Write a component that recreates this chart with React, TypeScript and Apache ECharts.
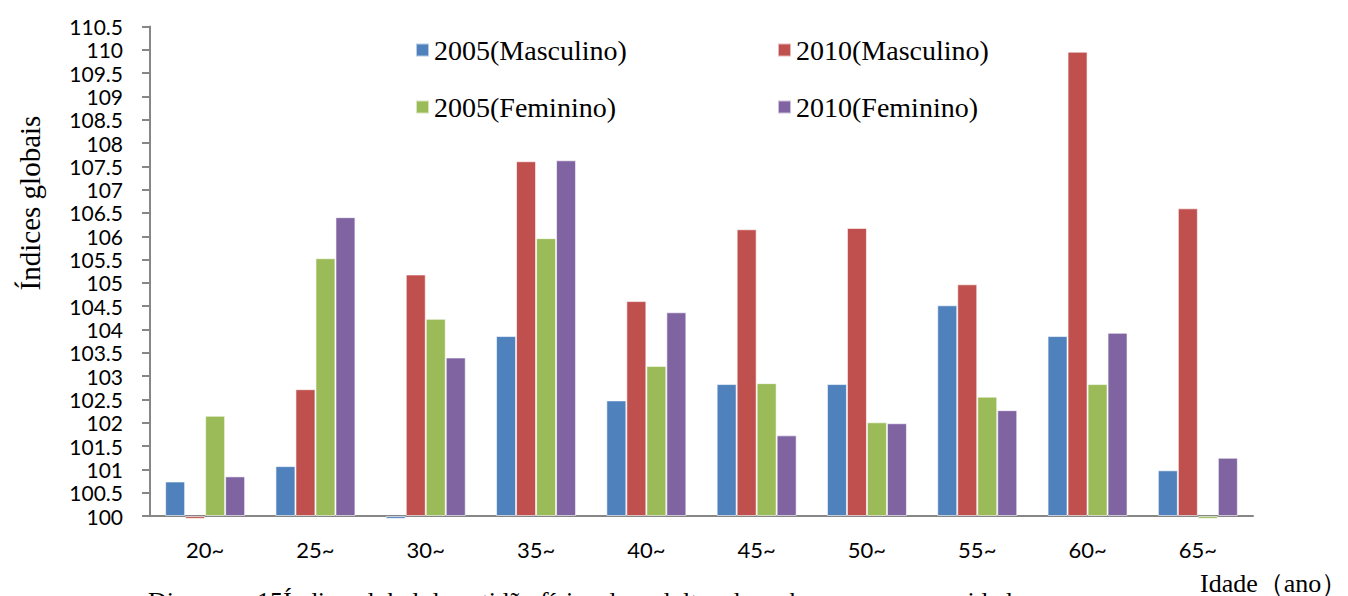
import React, { useEffect, useRef } from "react";
import * as echarts from "echarts";

const categories = ["20~", "25~", "30~", "35~", "40~", "45~", "50~", "55~", "60~", "65~"];
const seriesNames = ["2005(Masculino)", "2010(Masculino)", "2005(Feminino)", "2010(Feminino)"];
const male2005 = [100.74, 101.07, 99.94, 103.86, 102.48, 102.83, 102.83, 104.52, 103.86, 100.98];
const male2010 = [99.94, 102.72, 105.18, 107.61, 104.61, 106.15, 106.18, 104.97, 109.96, 106.6];
const female2005 = [102.15, 105.53, 104.23, 105.96, 103.22, 102.85, 102.01, 102.56, 102.83, 99.94];
const female2010 = [100.85, 106.41, 103.4, 107.63, 104.37, 101.73, 101.99, 102.27, 103.93, 101.25];
const colors = ["#4F81BD", "#C0504D", "#9BBB59", "#8064A2"];
const yTitle = "Índices globais";
const xTitle = "Idade（ano）";
const caption = "Diagrama 15Índice global da aptidão física dos adultos de ambos os sexos por idade";

const serif = "'Liberation Serif', 'Times New Roman', serif";
const sans = "Lato, 'Noto Sans', sans-serif";

export default function App() {
  const ref = useRef<HTMLDivElement>(null);
  useEffect(() => {
    if (!ref.current) return;
    const chart = echarts.init(ref.current, undefined, { renderer: "svg" });
    const values = [male2005, male2010, female2005, female2010];
    const legendPos = [
      { left: 415, top: 36 },
      { left: 777, top: 36 },
      { left: 415, top: 93 },
      { left: 777, top: 93 },
    ];
    chart.setOption({
      animation: false,
      backgroundColor: "#ffffff",
      color: colors,
      grid: { left: 150, right: 95, top: 26.5, bottom: 80, containLabel: false },
      legend: seriesNames.map((n, i) => ({
        data: [n],
        left: legendPos[i].left,
        top: legendPos[i].top,
        padding: 0,
        itemWidth: 13,
        itemHeight: 13,
        icon: "rect",
        textStyle: { fontFamily: serif, fontSize: 28, color: "#000", lineHeight: 28 },
      })),
      xAxis: {
        type: "category",
        data: categories,
        axisLine: { lineStyle: { color: "#868686", width: 2 } },
        axisTick: { show: false },
        axisLabel: { fontFamily: sans, fontSize: 22, color: "#000", margin: 22 },
      },
      yAxis: {
        type: "value",
        min: 100,
        max: 110.5,
        interval: 0.5,
        startValue: 100,
        splitLine: { show: false },
        axisLine: { show: true, lineStyle: { color: "#868686", width: 2 } },
        axisTick: { show: true, length: 8, lineStyle: { color: "#868686", width: 2 } },
        axisLabel: { fontFamily: sans, fontSize: 21, lineHeight: 21, color: "#000", margin: 27 },
      },
      graphic: [
        {
          type: "text",
          x: 30,
          y: 203,
          rotation: Math.PI / 2,
          style: {
            text: yTitle,
            fontFamily: serif,
            fontSize: 29,
            fill: "#000",
            align: "center",
            verticalAlign: "middle",
          },
        },
        {
          type: "text",
          x: 1200,
          y: 570,
          style: { text: xTitle, fontFamily: serif, fontSize: 26, fill: "#000" },
        },
        {
          type: "text",
          x: 148,
          y: 588,
          style: { text: caption, fontFamily: serif, fontSize: 26, fill: "#000" },
        },
      ],
      series: seriesNames.map((n, i) => ({
        name: n,
        type: "bar",
        data: values[i],
        barWidth: 20,
        barGap: "0%",
        clip: false,
        itemStyle: { color: colors[i], borderColor: "rgba(255,255,255,0.6)", borderWidth: 1 },
      })),
    });
    return () => chart.dispose();
  }, []);
  return (
    <div
      ref={ref}
      style={{ position: "absolute", left: 0, top: 0, width: 1348, height: 596 }}
    />
  );
}
